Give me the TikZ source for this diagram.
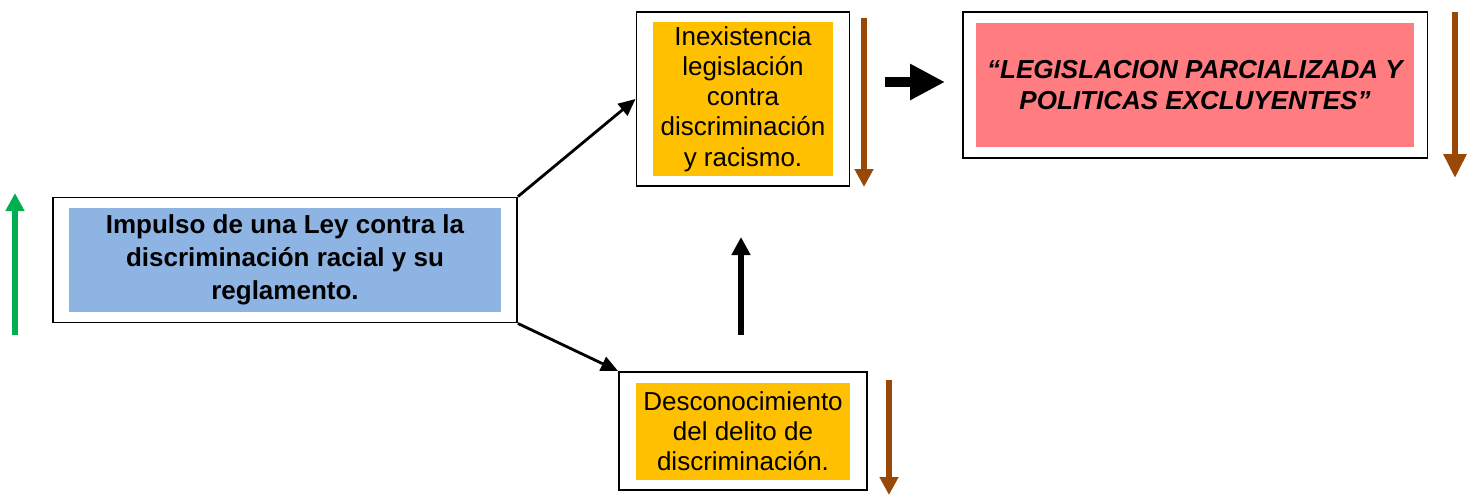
\documentclass[tikz,border=0pt]{standalone}
\usepackage{fontspec}
\setmainfont{Liberation Sans}
\usetikzlibrary{arrows.meta,positioning}
\definecolor{boxblue}{RGB}{142,180,227}
\definecolor{boxorange}{RGB}{255,192,0}
\definecolor{boxpink}{RGB}{255,124,128}
\definecolor{upgreen}{RGB}{0,176,80}
\definecolor{downbrown}{RGB}{152,72,7}
\newcommand{\boxfont}{\fontsize{14.8}{17.2}\selectfont}
\tikzstyle{framebox}=[draw,line width=1.1pt,fill=white,inner sep=0]
\tikzstyle{fillbox}=[inner sep=0,align=center]
\tikzstyle{thinarrow}=[line width=1.6pt,-{Triangle[length=0.34cm,width=0.3cm]}]
\tikzstyle{trend}=[line width=3.3pt,-{Triangle[length=0.36cm,width=0.36cm]}]
\tikzstyle{blockarrow}=[line width=6.2pt,-{Triangle[length=0.7cm,width=0.68cm]}]
% frame with a coloured text box inside
\newcommand{\causebox}[9]{
\node[framebox, minimum width=#3, minimum height=#4] (#1) at (#2) {};
\node[fillbox, fill=#7, minimum width=#5, minimum height=#6, font=#8] (#1in) at (#1) {#9};
}

\begin{document}
\begin{tikzpicture}[x=0.02cm,y=-0.02cm]
\useasboundingbox (0,0) rectangle (1478,495);

\causebox{ley}{285,260}{9.28cm}{2.5cm}{8.66cm}{2.1cm}{boxblue}{\fontsize{14.8}{18.8}\selectfont\bfseries}{Impulso de una Ley contra la\\discriminación racial y su\\reglamento.}
\causebox{inex}{743,99}{4.26cm}{3.48cm}{3.62cm}{3.08cm}{boxorange}{\boxfont}{Inexistencia\\legislación\\contra\\discriminación\\y racismo.}
\causebox{desc}{743,431}{4.96cm}{2.36cm}{4.3cm}{1.94cm}{boxorange}{\boxfont}{Desconocimiento\\del delito de\\discriminación.}
\causebox{legis}{1195,85}{9.3cm}{2.92cm}{8.76cm}{2.48cm}{boxpink}{\boxfont\bfseries\itshape}{“LEGISLACION PARCIALIZADA Y\\POLITICAS EXCLUYENTES”}

\draw[thinarrow] (ley.north east) -- (inex.west);
\draw[thinarrow] (ley.south east) -- (desc.north west);

\coordinate (up1) at (741,335);
\coordinate (up2) at (741,237);
\draw[trend] (up1) -- (up2);
\coordinate (res1) at (885,82);
\coordinate (res2) at (945,82);
\draw[blockarrow] (res1) -- (res2);

% trend arrows
\coordinate (g1) at (15,335);
\coordinate (g2) at (15,193);
\draw[trend, upgreen] (g1) -- (g2);
\coordinate (b1) at (864,18);
\coordinate (b2) at (864,187);
\draw[trend, downbrown] (b1) -- (b2);
\coordinate (c1) at (1455,12);
\coordinate (c2) at (1455,178);
\draw[trend, downbrown, -{Triangle[length=0.48cm,width=0.44cm]}] (c1) -- (c2);
\coordinate (d1) at (889,380);
\coordinate (d2) at (889,495);
\draw[trend, downbrown] (d1) -- (d2);
\end{tikzpicture}
\end{document}
